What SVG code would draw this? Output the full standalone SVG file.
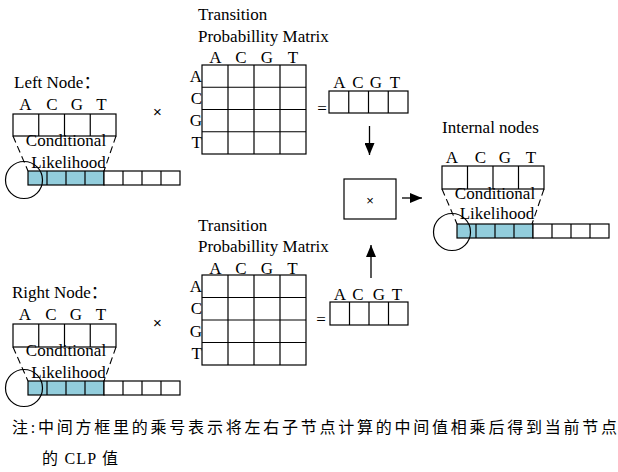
<svg xmlns="http://www.w3.org/2000/svg" width="618" height="472" viewBox="0 0 618 472">
  <defs>
    <style>
      .bg { fill: #ffffff; }
      .box { fill: none; stroke: #000; stroke-width: 1.2; }
      .cell { fill: #ffffff; stroke: #000; stroke-width: 1.2; }
      .hot { fill: #92CDDC; stroke: #000; stroke-width: 1.2; }
      .ln { stroke: #000; stroke-width: 1.2; fill: none; }
      .dash { stroke: #000; stroke-width: 1.1; fill: none; stroke-dasharray: 7 4; }
      .ring { fill: none; stroke: #000; stroke-width: 1.2; }
      .t { font-family: "Liberation Serif", "Noto Sans CJK SC", serif; font-size: 17px; fill: #000; }
      .mid { text-anchor: middle; }
      .end { text-anchor: end; }
      .op { font-family: "Liberation Sans", sans-serif; fill: #000; text-anchor: middle; }
      .note { font-family: "Liberation Serif", "Noto Sans CJK SC", serif; font-size: 16px; fill: #000; }
      .arrow { stroke: #000; stroke-width: 1.3; fill: none; marker-end: url(#head); }
    </style>
    <marker id="head" viewBox="0 0 12 10" refX="12" refY="5" markerWidth="12" markerHeight="10" markerUnits="userSpaceOnUse" orient="auto">
      <path d="M0,0 L12,5 L0,10 z" fill="#000"/>
    </marker>
  </defs>

  <rect class="bg" x="0" y="0" width="618" height="472"/>

  <!-- Left node: four-state vector expanded into its conditional likelihood array -->
  <g id="left-node">
    <text class="t" x="14" y="88">Left Node：</text>
    <g transform="translate(13,114)">
      <text class="t mid" x="12.5" y="-4">A</text>
      <text class="t mid" x="39" y="-4">C</text>
      <text class="t mid" x="64" y="-4">G</text>
      <text class="t mid" x="88.5" y="-4">T</text>
      <rect class="box" x="0" y="0" width="103" height="22"/>
      <path class="ln" d="M25.75,0 V22 M51.5,0 V22 M77.25,0 V22"/>
      <path class="dash" d="M0,22 L15,57 M103,22 L91,57"/>
      <text class="t mid" x="53" y="32">Conditional</text>
      <text class="t mid" x="55.5" y="54">Likelihood</text>
      <rect class="hot" x="15" y="57" width="76" height="14"/>
      <rect class="cell" x="91" y="57" width="76" height="14"/>
      <path class="ln" d="M34,57 V71 M53,57 V71 M72,57 V71 M110,57 V71 M129,57 V71 M148,57 V71"/>
      <circle class="ring" cx="11" cy="66" r="18.5"/>
    </g>
  </g>

  <!-- Right node -->
  <g id="right-node">
    <text class="t" x="12" y="298">Right Node：</text>
    <g transform="translate(13,324)">
      <text class="t mid" x="12" y="-4">A</text>
      <text class="t mid" x="38" y="-4">C</text>
      <text class="t mid" x="63" y="-4">G</text>
      <text class="t mid" x="88" y="-4">T</text>
      <rect class="box" x="0" y="0" width="103" height="23"/>
      <path class="ln" d="M25.75,0 V23 M51.5,0 V23 M77.25,0 V23"/>
      <path class="dash" d="M0,23 L15,57 M103,23 L91,57"/>
      <text class="t mid" x="53" y="32">Conditional</text>
      <text class="t mid" x="55.5" y="54">Likelihood</text>
      <rect class="hot" x="15" y="57" width="76" height="14"/>
      <rect class="cell" x="91" y="57" width="76" height="14"/>
      <path class="ln" d="M34,57 V71 M53,57 V71 M72,57 V71 M110,57 V71 M129,57 V71 M148,57 V71"/>
      <circle class="ring" cx="11" cy="64" r="18.5"/>
    </g>
  </g>

  <!-- Internal node: result of the combination -->
  <g id="internal-node">
    <text class="t" x="442" y="133">Internal nodes</text>
    <g transform="translate(442,166)">
      <text class="t mid" x="10" y="-3">A</text>
      <text class="t mid" x="38.5" y="-3">C</text>
      <text class="t mid" x="63" y="-3">G</text>
      <text class="t mid" x="89" y="-3">T</text>
      <rect class="box" x="0" y="0" width="102" height="23"/>
      <path class="ln" d="M25.5,0 V23 M51,0 V23 M76.5,0 V23"/>
      <path class="dash" d="M0,23 L15,58 M102,23 L90,58"/>
      <text class="t mid" x="53" y="33">Conditional</text>
      <text class="t mid" x="55" y="53">Likelihood</text>
      <rect class="hot" x="15" y="58" width="76" height="14"/>
      <rect class="cell" x="91" y="58" width="76" height="14"/>
      <path class="ln" d="M34,58 V72 M53,58 V72 M72,58 V72 M110,58 V72 M129,58 V72 M148,58 V72"/>
      <circle class="ring" cx="10" cy="66" r="18.5"/>
    </g>
  </g>

  <!-- Transition probability matrix for the left branch -->
  <g id="matrix-top">
    <text class="t" x="198" y="20">Transition</text>
    <text class="t" x="198" y="41.5">Probabillity Matrix</text>
    <g transform="translate(202,65)">
      <text class="t mid" x="13.5" y="-2">A</text>
      <text class="t mid" x="39" y="-2">C</text>
      <text class="t mid" x="65" y="-2">G</text>
      <text class="t mid" x="91" y="-2">T</text>
      <text class="t end" x="0" y="17">A</text>
      <text class="t end" x="0" y="38.5">C</text>
      <text class="t end" x="0" y="61">G</text>
      <text class="t end" x="0" y="83">T</text>
      <rect class="box" x="0" y="0" width="104" height="89"/>
      <path class="ln" d="M26,0 V89 M52,0 V89 M78,0 V89 M0,22.25 H104 M0,44.5 H104 M0,66.75 H104"/>
    </g>
  </g>

  <!-- Transition probability matrix for the right branch -->
  <g id="matrix-bottom">
    <text class="t" x="198" y="230.5">Transition</text>
    <text class="t" x="198" y="252">Probabillity Matrix</text>
    <g transform="translate(202,275)">
      <text class="t mid" x="13.5" y="-1">A</text>
      <text class="t mid" x="39" y="-1">C</text>
      <text class="t mid" x="65" y="-1">G</text>
      <text class="t mid" x="90.5" y="-1">T</text>
      <text class="t end" x="0" y="17">A</text>
      <text class="t end" x="0" y="38.5">C</text>
      <text class="t end" x="0" y="61.5">G</text>
      <text class="t end" x="0" y="83.5">T</text>
      <rect class="box" x="0" y="0" width="104" height="90"/>
      <path class="ln" d="M26,0 V90 M52,0 V90 M78,0 V90 M0,22.5 H104 M0,45 H104 M0,67.5 H104"/>
    </g>
  </g>

  <!-- Operators between vectors and matrices -->
  <g id="operators">
    <text class="op" x="157.5" y="117" font-size="15">×</text>
    <text class="op" x="157.5" y="327.5" font-size="15">×</text>
    <text class="t mid" x="322" y="114">=</text>
    <text class="t mid" x="321" y="325">=</text>
  </g>

  <!-- Intermediate vector, left branch -->
  <g id="result-top">
    <g transform="translate(329,91)">
      <text class="t mid" x="10.5" y="-3">A</text>
      <text class="t mid" x="29" y="-3">C</text>
      <text class="t mid" x="47" y="-3">G</text>
      <text class="t mid" x="66" y="-3">T</text>
      <rect class="box" x="0" y="0" width="79" height="22"/>
      <path class="ln" d="M19.75,0 V22 M39.5,0 V22 M59.25,0 V22"/>
    </g>
  </g>

  <!-- Intermediate vector, right branch -->
  <g id="result-bottom">
    <g transform="translate(330,302)">
      <text class="t mid" x="10" y="-2">A</text>
      <text class="t mid" x="28" y="-2">C</text>
      <text class="t mid" x="49" y="-2">G</text>
      <text class="t mid" x="67" y="-2">T</text>
      <rect class="box" x="0" y="0" width="78" height="23"/>
      <path class="ln" d="M19.5,0 V23 M39,0 V23 M58.5,0 V23"/>
    </g>
  </g>

  <!-- Element-wise product box -->
  <g id="multiply-box">
    <rect class="box" x="344" y="179" width="52" height="40"/>
    <text class="op" x="370" y="205" font-size="13">×</text>
  </g>

  <!-- Connectors -->
  <g id="connectors">
    <path class="arrow" d="M369.5,126 V155"/>
    <path class="arrow" d="M371,278 V245"/>
    <path class="arrow" d="M402,198 H422"/>
  </g>

  <!-- Footnote -->
  <g id="footnote">
    <text class="note" x="12" y="433" textLength="605" lengthAdjust="spacing">注:中间方框里的乘号表示将左右子节点计算的中间值相乘后得到当前节点</text>
    <text class="note" x="42" y="464" textLength="76" lengthAdjust="spacing">的 CLP 值</text>
  </g>
</svg>
